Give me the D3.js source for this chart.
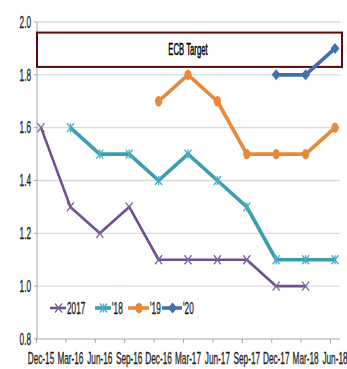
<!DOCTYPE html>
<html><head><meta charset="utf-8">
<script src="https://cdn.jsdelivr.net/npm/d3@7"></script>
<style>html,body{margin:0;padding:0;background:#fff;}svg{display:block;}</style>
</head><body>
<svg id="c" width="347" height="369"></svg>
<script>
const categories = ["Dec-15","Mar-16","Jun-16","Sep-16","Dec-16","Mar-17","Jun-17","Sep-17","Dec-17","Mar-18","Jun-18"];
const yTicks = [0.8, 1.0, 1.2, 1.4, 1.6, 1.8, 2.0];
const seriesNames = ["2017", "'18", "'19", "'20"];
const s2017 = [1.6, 1.3, 1.2, 1.3, 1.1, 1.1, 1.1, 1.1, 1.0, 1.0, null];
const s2018 = [null, 1.6, 1.5, 1.5, 1.4, 1.5, 1.4, 1.3, 1.1, 1.1, 1.1];
const s2019 = [null, null, null, null, 1.7, 1.8, 1.7, 1.5, 1.5, 1.5, 1.6];
const s2020 = [null, null, null, null, null, null, null, null, 1.8, 1.8, 1.9];
const ecbTarget = [1.83, 1.96];
const ecbLabel = "ECB Target";

const svg = d3.select("#c");
const FONT = "'Liberation Sans Narrow','Arial Narrow','Liberation Sans',Arial,sans-serif";
const FS = 17;
const x = d3.scalePoint().domain(categories).range([41, 335]);
const y = d3.scaleLinear().domain([0.8, 2.0]).range([339, 22]);
const left = 37, right = 340;

// measure to get horizontal squeeze
const probe = svg.append("text").attr("font-family", FONT).attr("font-size", FS).text("Dec-15");
const sx = 26.5 / probe.node().getComputedTextLength();
probe.remove();
function label(parent, px, py, str, anchor, size, color, sw) {
  const c = color || "#1f1f1f";
  const g = parent.append("g").attr("transform", `translate(${px},${py}) scale(${sx},1)`);
  g.append("text").attr("font-family", FONT).attr("font-size", size || FS)
    .attr("text-anchor", anchor || "start").attr("dominant-baseline", "central")
    .attr("fill", c).attr("stroke", c).attr("stroke-width", sw || 0.35).text(str);
  return g;
}

// gridlines
svg.append("g").selectAll("line").data(yTicks.filter(d => d > 0.8)).join("line")
  .attr("x1", left).attr("x2", right).attr("y1", d => y(d)).attr("y2", d => y(d))
  .attr("stroke", "#d9d9d9").attr("stroke-width", 1.3);

// y axis
svg.append("line").attr("x1", left).attr("x2", left).attr("y1", y(2.0)).attr("y2", y(0.8))
  .attr("stroke", "#a6a6a6").attr("stroke-width", 1);
yTicks.forEach(t => {
  svg.append("line").attr("x1", left - 3).attr("x2", left).attr("y1", y(t)).attr("y2", y(t)).attr("stroke", "#a6a6a6");
  label(svg, 31, y(t), d3.format(".1f")(t), "end");
});
// x axis
svg.append("line").attr("x1", left).attr("x2", right).attr("y1", y(0.8)).attr("y2", y(0.8))
  .attr("stroke", "#a6a6a6").attr("stroke-width", 1);
categories.forEach(c => {
  const tx = x(c) - 4.5;
  svg.append("line").attr("x1", tx).attr("x2", tx).attr("y1", y(0.8)).attr("y2", y(0.8) + 4).attr("stroke", "#a6a6a6");
  label(svg, x(c), 358, c, "middle");
});

// ECB target box
svg.append("rect").attr("x", left).attr("y", y(ecbTarget[1]))
  .attr("width", 342 - left).attr("height", y(ecbTarget[0]) - y(ecbTarget[1]))
  .attr("fill", "#fff").attr("stroke", "#5a0b0b").attr("stroke-width", 2);
label(svg, 188, (y(ecbTarget[0]) + y(ecbTarget[1])) / 2, ecbLabel, "middle", 16, "#000", 0.5);

// markers
const markers = {
  x: (g, c) => g.append("path").attr("d", "M-3.5,-4.5L3.5,4.5M-3.5,4.5L3.5,-4.5").attr("stroke", c).attr("stroke-width", 1.3).attr("fill", "none"),
  star: (g, c) => g.append("path").attr("d", "M-3.5,-4.5L3.5,4.5M-3.5,4.5L3.5,-4.5M0,-4.5L0,4.5").attr("stroke", c).attr("stroke-width", 1.3).attr("fill", "none"),
  circle: (g, c) => g.append("ellipse").attr("rx", 3.6).attr("ry", 5.2).attr("fill", c),
  diamond: (g, c) => g.append("path").attr("d", "M0,-5.5L4.5,0L0,5.5L-4.5,0Z").attr("fill", c)
};
const series = [
  {name: seriesNames[0], values: s2017, color: "#70508f", mcolor: "#7d62a0", width: 2.6, marker: "x"},
  {name: seriesNames[1], values: s2018, color: "#3c9cb2", mcolor: "#4aaec4", width: 3.6, marker: "star"},
  {name: seriesNames[2], values: s2019, color: "#e8883a", mcolor: "#e8883a", width: 3.6, marker: "circle"},
  {name: seriesNames[3], values: s2020, color: "#4270ab", mcolor: "#4270ab", width: 3.6, marker: "diamond"}
];
const line = d3.line().defined(d => d.v != null).x(d => x(d.c)).y(d => y(d.v));
series.forEach(s => {
  const pts = categories.map((c, i) => ({c, v: s.values[i]}));
  svg.append("path").datum(pts).attr("d", line).attr("fill", "none")
    .attr("stroke", s.color).attr("stroke-width", s.width).attr("stroke-linejoin", "round");
  pts.filter(p => p.v != null).forEach(p => {
    const g = svg.append("g").attr("transform", `translate(${x(p.c)},${y(p.v)})`);
    markers[s.marker](g, s.mcolor);
  });
});

// legend
const legendPos = [[50, 67], [95, 112], [128, 150], [162, 183]];
series.forEach((s, i) => {
  const [x0, x1] = legendPos[i];
  const ly = 308;
  svg.append("line").attr("x1", x0).attr("x2", x1 - 1).attr("y1", ly).attr("y2", ly)
    .attr("stroke", s.color).attr("stroke-width", s.width);
  const g = svg.append("g").attr("transform", `translate(${(x0 + x1) / 2},${ly})`);
  markers[s.marker](g, s.mcolor);
  label(svg, x1, ly, s.name, "start");
});
</script>
</body></html>
